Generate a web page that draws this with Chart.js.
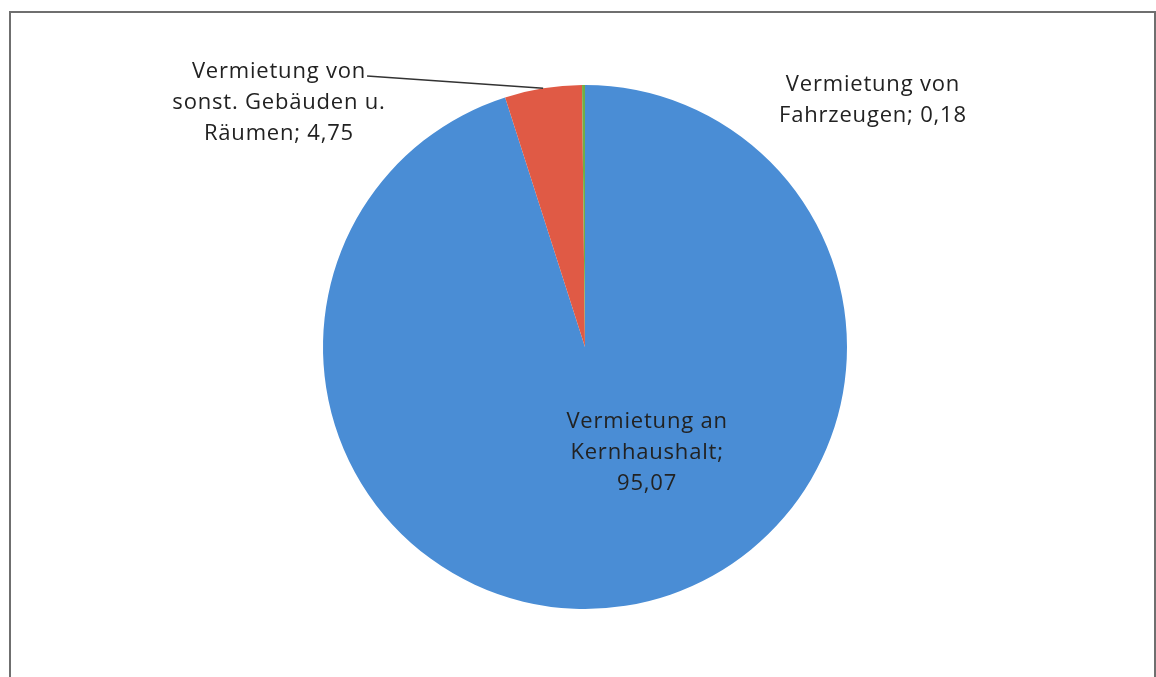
<!DOCTYPE html>
<html lang="de">
<head>
  <meta charset="UTF-8" />
  <title>Vermietung</title>
  <script src="https://cdn.jsdelivr.net/npm/chart.js"></script>
  <style>
    html, body { margin: 0; padding: 0; background: #fff; overflow: hidden; }
    #rahmen {
      position: absolute; left: 9px; top: 11px; width: 1143px; height: 700px;
      border: 2px solid #6f6f6f; border-bottom: none;
    }
    #wrap { position: absolute; left: 0; top: 0; width: 1156px; height: 677px; }
  </style>
</head>
<body>
  <div id="rahmen"></div>
  <div id="wrap"><canvas id="grafik"></canvas></div>

  <script>
    const kategorien = [
      ["Vermietung an", "Kernhaushalt;", "95,07"],
      ["Vermietung von", "sonst. Gebäuden u.", "Räumen; 4,75"],
      ["Vermietung von", "Fahrzeugen; 0,18"]
    ];
    const werte = [95.07, 4.75, 0.18];
    const farben = ["#4a8dd5", "#e05a45", "#70ad47"];

    // Lage der Beschriftungen relativ zum Kreis (in Radien)
    const labelOffsets = [
      { dx: 0.237, dy: 0.405 },
      { dx: -1.168, dy: -0.931 },
      { dx: 1.099, dy: -0.943 }
    ];

    const beschriftung = {
      id: "beschriftung",
      afterDatasetsDraw(chart) {
        const ctx = chart.ctx;
        const arcs = chart.getDatasetMeta(0).data;
        const lh = 31;
        ctx.save();
        ctx.font = "22px 'Open Sans', sans-serif";
        ctx.letterSpacing = "0.8px";
        ctx.fillStyle = "#222";
        ctx.textAlign = "center";
        ctx.textBaseline = "middle";
        arcs.forEach((arc, i) => {
          const r = arc.outerRadius;
          const cx = arc.x + labelOffsets[i].dx * r;
          const cy = arc.y + labelOffsets[i].dy * r;
          const zeilen = kategorien[i];
          const y0 = cy - (zeilen.length - 1) * lh / 2;
          zeilen.forEach((z, k) => ctx.fillText(z, cx, y0 + k * lh));

          // Fuehrungslinie fuer das schmale rote Segment
          if (i === 1) {
            const w = ctx.measureText(zeilen[0]).width;
            const mid = (arc.startAngle + arc.endAngle) / 2;
            ctx.beginPath();
            ctx.strokeStyle = "#333";
            ctx.lineWidth = 1.5;
            ctx.moveTo(cx + w / 2 + 1, y0 + 4);
            ctx.lineTo(arc.x + Math.cos(mid) * r, arc.y + Math.sin(mid) * r);
            ctx.stroke();
          }
        });
        ctx.restore();
      }
    };

    new Chart(document.getElementById("grafik"), {
      type: "pie",
      data: {
        labels: kategorien.map(k => k.join(" ")),
        datasets: [{
          data: werte,
          backgroundColor: farben,
          borderWidth: 0
        }]
      },
      options: {
        responsive: true,
        maintainAspectRatio: false,
        animation: false,
        layout: { padding: { left: 285, right: 271, top: 85, bottom: 68 } },
        plugins: {
          legend: { display: false },
          tooltip: { enabled: false }
        }
      },
      plugins: [beschriftung]
    });
  </script>
</body>
</html>
